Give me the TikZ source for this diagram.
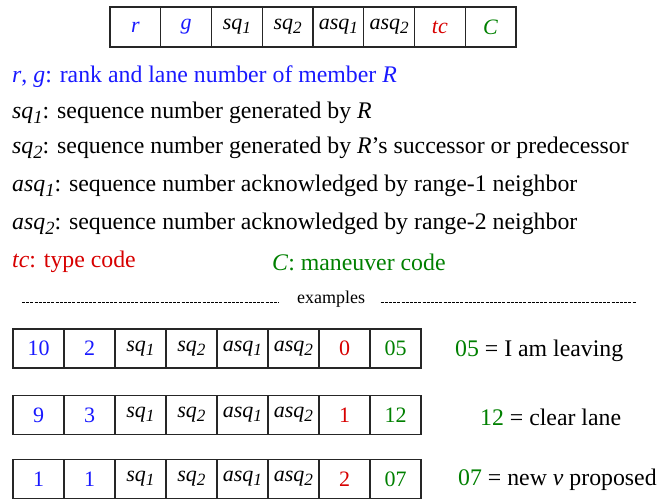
\documentclass[tikz,border=0pt]{standalone}
\usepackage{fontspec}
\usepackage{graphicx}
\setmainfont{Liberation Serif}
\usetikzlibrary{positioning}
\definecolor{FieldBlue}{RGB}{25,25,255}
\definecolor{CodeRed}{RGB}{215,0,0}
\definecolor{CodeGreen}{RGB}{0,128,0}
\newcommand{\fsub}[2]{\textit{#1}\raisebox{-.4ex}{\scalebox{.78}{\textit{#2}}}}
\tikzset{
  cell/.style   ={rectangle, draw=black!85, line width=1.2pt, minimum width=50.75pt,
                  minimum height=40pt, inner sep=0pt, font=\fontsize{22}{26}\selectfont},
  excell/.style ={cell, minimum width=51pt, minimum height=39pt},
  legend/.style ={anchor=west, inner sep=0pt, font=\fontsize{23.8}{28}\selectfont},
  sep/.style    ={line width=.8pt, dash pattern=on 3pt off 1.2pt},
}

\begin{document}
\begin{tikzpicture}[x=1pt,y=-1pt]
  \useasboundingbox (0,0) rectangle (661,499);

  % field layout
  \foreach \t/\c [count=\i] in {\textit{r}/FieldBlue, \textit{g}/FieldBlue,
      \fsub{sq}{1}/black, \fsub{sq}{2}/black, \fsub{asq}{1}/black,
      \fsub{asq}{2}/black, \textit{tc}/CodeRed, \textit{C}/CodeGreen}
    \node[cell,text=\c] (h\i) at ({110+50.75*(\i-0.5)},27) {\t};

  % legend
  \node[legend,text=FieldBlue] (l1) at (12,77) {\textit{r}, \textit{g}: rank and lane number of member \textit{R}};
  \node[legend] (l2) at (12,113) {\fsub{sq}{1}: sequence number generated by \textit{R}};
  \node[legend] (l3) at (12,148) {\fsub{sq}{2}: sequence number generated by \textit{R}'s successor or predecessor};
  \node[legend] (l4) at (12,186) {\fsub{asq}{1}: sequence number acknowledged by range-1 neighbor};
  \node[legend] (l5) at (12,224) {\fsub{asq}{2}: sequence number acknowledged by range-2 neighbor};
  \node[legend,text=CodeRed] (l6) at (12,262) {\textit{tc}: type code};
  \node[legend,text=CodeGreen] (l7) at (272,262) {\textit{C}: maneuver code};

  % separator
  \node[font=\fontsize{18}{21}\selectfont] (ex) at (331,299) {examples};
  \coordinate (sepL) at (22,302);
  \coordinate (sepR) at (636,302);
  \draw[sep] (sepL) -- ([xshift=-14pt]sepL -| ex.west);
  \draw[sep] ([xshift=12pt]ex.east |- sepR) -- (sepR);

  % examples
  \foreach \y/\rk/\ln/\tc/\mc [count=\r] in {348.5/10/2/0/05, 415/9/3/1/12, 479/1/1/2/07}{
    \foreach \t/\c [count=\i] in {\rk/FieldBlue, \ln/FieldBlue,
        \fsub{sq}{1}/black, \fsub{sq}{2}/black, \fsub{asq}{1}/black,
        \fsub{asq}{2}/black, \tc/CodeRed, \mc/CodeGreen}
      \node[excell,text=\c] (e\r\i) at ({13+51*(\i-0.5)},\y) {\t};
  }

  \node[legend] (m1) at (455,351) {\textcolor{CodeGreen}{05} = I am leaving};
  \node[legend] (m2) at (480,417) {\textcolor{CodeGreen}{12} = clear lane};
  \node[legend] (m3) at (458,480) {\textcolor{CodeGreen}{07} = new \textit{v} proposed};
\end{tikzpicture}
\end{document}
